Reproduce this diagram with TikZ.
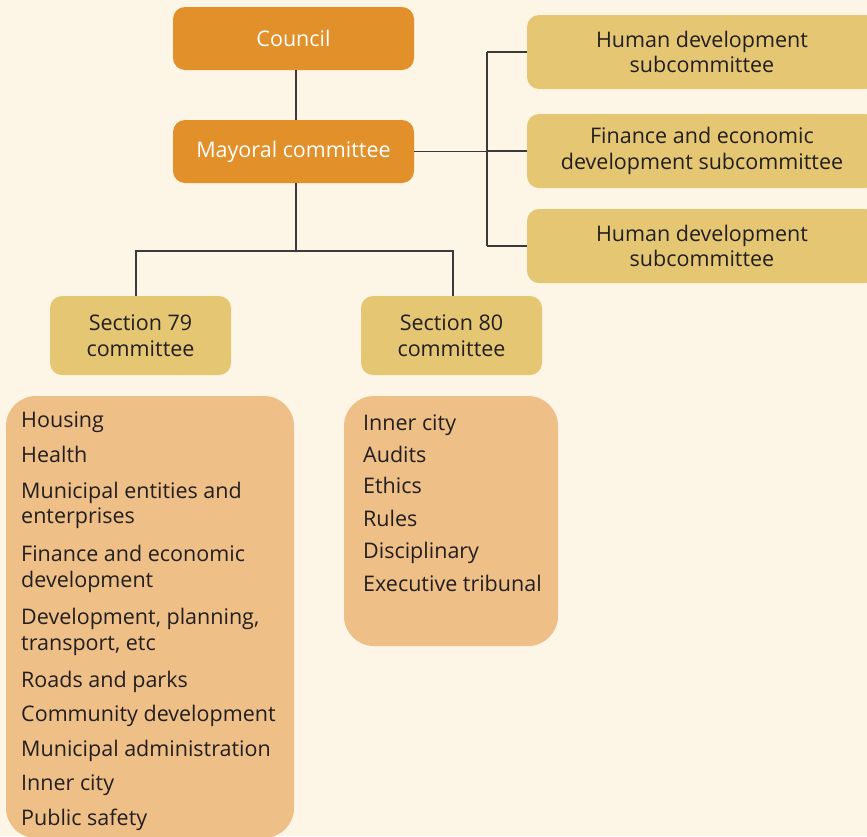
\documentclass[tikz,border=0pt]{standalone}
\usepackage{fontspec}
\setmainfont{Open Sans}
\definecolor{bg}{HTML}{FDF5E6}
\definecolor{orangebox}{HTML}{E1902A}
\definecolor{goldbox}{HTML}{E5C673}
\definecolor{listbox}{HTML}{EEBF87}
\definecolor{ink}{HTML}{231F20}
\definecolor{wire}{HTML}{3A3A3A}
\tikzset{
  topbox/.style={fill=orangebox, rounded corners=12pt, text=white, align=center, inner sep=0pt, font=\fontsize{21.5}{25.5}\selectfont},
  subbox/.style={fill=goldbox, rounded corners=12pt, text=ink, align=center, inner sep=0pt, font=\fontsize{21.5}{25.5}\selectfont},
  listbg/.style={fill=listbox, rounded corners=30pt, inner sep=0pt},
  item/.style={anchor=base west, text=ink, align=left, inner sep=0pt, font=\fontsize{21.5}{25.5}\selectfont},
  wireline/.style={draw=wire, line width=1.3pt}
}
\begin{document}
\begin{tikzpicture}[x=1pt,y=-1pt]
\fill[bg] (0,0) rectangle (867,836);
\useasboundingbox (0,0) rectangle (867,836);
\clip (0,0) rectangle (867,836);

% top boxes
\node[topbox, minimum width=241pt, minimum height=63pt] (council) at (293.5,38.5) {Council};
\node[topbox, minimum width=241pt, minimum height=63pt] (mayoral) at (293.5,151.5) {Mayoral committee};

% subcommittees
\node[subbox, minimum width=350pt, minimum height=74pt] (sub1) at (702,52) {Human development\\subcommittee};
\node[subbox, minimum width=350pt, minimum height=74pt] (sub2) at (702,151) {Finance and economic\\development subcommittee};
\node[subbox, minimum width=350pt, minimum height=74pt] (sub3) at (702,246) {Human development\\subcommittee};

% section committees
\node[subbox, minimum width=181pt, minimum height=79pt] (s79) at (140.5,335.5) {Section 79\\committee};
\node[subbox, minimum width=181pt, minimum height=79pt] (s80) at (451.5,335.5) {Section 80\\committee};

% list backgrounds
\node[listbg, minimum width=288pt, minimum height=442pt] (list79) at (150,617) {};
\node[listbg, minimum width=214pt, minimum height=250pt] (list80) at (451,521) {};

% list 79 items (base = baseline of last line)
\node[item] (h1) at (21,427) {Housing};
\node[item] (h2) at (21,462) {Health};
\node[item] (h3) at (21,523.5) {Municipal entities and\\enterprises};
\node[item] (h4) at (21,587) {Finance and economic\\development};
\node[item] (h5) at (21,650) {Development, planning,\\transport, etc};
\node[item] (h6) at (21,687) {Roads and parks};
\node[item] (h7) at (21,721.5) {Community development};
\node[item] (h8) at (21,756) {Municipal administration};
\node[item] (h9) at (21,790.5) {Inner city};
\node[item] (h10) at (21,825) {Public safety};

% list 80 items
\node[item] (r1) at (363,430) {Inner city};
\node[item] (r2) at (363,462.5) {Audits};
\node[item] (r3) at (363,493.5) {Ethics};
\node[item] (r4) at (363,526.5) {Rules};
\node[item] (r5) at (363,558.5) {Disciplinary};
\node[item] (r6) at (363,591.5) {Executive tribunal};

% connectors
\coordinate (busx) at (487,0);
\coordinate (trunk) at (296,0);
\coordinate (tee) at (296,251);
\draw[wireline] (council.south -| trunk) -- (mayoral.north -| trunk);
\draw[wireline] (mayoral.east) -- (busx |- mayoral.east);
\draw[wireline] (busx |- sub1.west) -- (busx |- sub3.west);
\draw[wireline] (busx |- sub1.west) -- (sub1.west);
\draw[wireline] (busx |- sub2.west) -- (sub2.west);
\draw[wireline] (busx |- sub3.west) -- (sub3.west);
\draw[wireline] (mayoral.south -| trunk) -- (tee);
\draw[wireline] (s79.north -| 136,0) |- (tee) -| (s80.north -| 453,0);
\end{tikzpicture}
\end{document}
